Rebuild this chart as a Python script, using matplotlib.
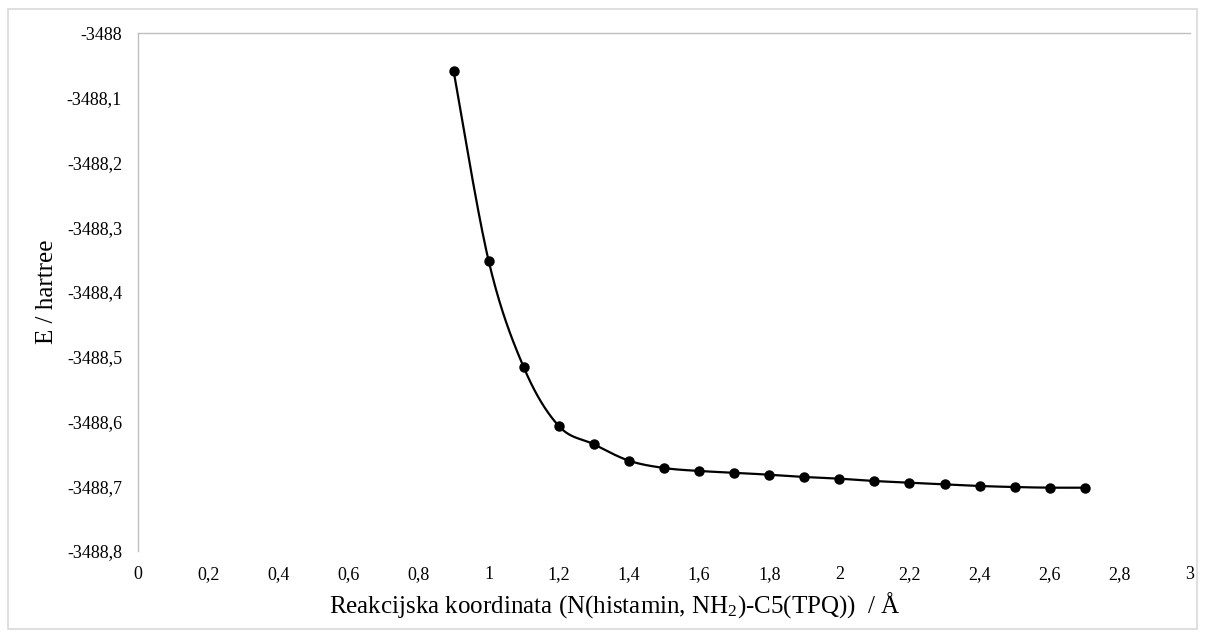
import numpy as np
import matplotlib
matplotlib.use("Agg")
import matplotlib.pyplot as plt
from matplotlib.ticker import FuncFormatter, MultipleLocator
from matplotlib.patches import Rectangle

# Data
x_coord = [0.9, 1.0, 1.1, 1.2, 1.3, 1.4, 1.5, 1.6, 1.7, 1.8, 1.9,
           2.0, 2.1, 2.2, 2.3, 2.4, 2.5, 2.6, 2.7]
energy = [-3488.0587, -3488.3521, -3488.5163, -3488.6070, -3488.6352,
          -3488.6605, -3488.6718, -3488.6764, -3488.6791, -3488.6822,
          -3488.6857, -3488.6883, -3488.6919, -3488.6945, -3488.6970,
          -3488.6996, -3488.7012, -3488.7022, -3488.7022]

plt.rcParams['font.family'] = ['Liberation Serif', 'DejaVu Serif']
plt.rcParams['mathtext.fontset'] = 'custom'
plt.rcParams['mathtext.rm'] = 'Liberation Serif'
plt.rcParams['mathtext.it'] = 'Liberation Serif:italic'


def smooth_curve(xs, ys, n=30):
    """Excel-like smoothed line (Catmull-Rom Bezier) through the points."""
    xs = np.asarray(xs, float)
    ys = np.asarray(ys, float)
    px, py = [], []
    N = len(xs)
    for i in range(N - 1):
        x0, y0 = (xs[i - 1], ys[i - 1]) if i > 0 else (xs[i], ys[i])
        x1, y1 = xs[i], ys[i]
        x2, y2 = xs[i + 1], ys[i + 1]
        x3, y3 = (xs[i + 2], ys[i + 2]) if i + 2 < N else (x2, y2)
        c1x, c1y = x1 + (x2 - x0) / 6, y1 + (y2 - y0) / 6
        c2x, c2y = x2 - (x3 - x1) / 6, y2 - (y3 - y1) / 6
        t = np.linspace(0, 1, n, endpoint=(i == N - 2))
        a = (1 - t) ** 3
        b = 3 * (1 - t) ** 2 * t
        c = 3 * (1 - t) * t ** 2
        d = t ** 3
        px.append(a * x1 + b * c1x + c * c2x + d * x2)
        py.append(a * y1 + b * c1y + c * c2y + d * y2)
    return np.concatenate(px), np.concatenate(py)


fig = plt.figure(figsize=(12.06, 6.37), dpi=100)
fig.patches.append(Rectangle((8 / 1206, 8 / 637), 1 - 17 / 1206, 1 - 17 / 637,
                             transform=fig.transFigure, fill=False,
                             edgecolor='#d9d9d9', linewidth=1.2))
ax = fig.add_axes([138 / 1206, 1 - 551 / 637, (1190 - 138) / 1206, (551 - 33) / 637])

sx, sy = smooth_curve(x_coord, energy)
ax.plot(sx, sy, color='black', linewidth=1.6, zorder=2)
ax.plot(x_coord, energy, 'o', color='black', markersize=6.5, zorder=3)

ax.set_xlim(0, 3)
ax.set_ylim(-3488.8, -3488.0)
ax.xaxis.set_major_locator(MultipleLocator(0.2))
ax.yaxis.set_major_locator(MultipleLocator(0.1))


def fmt(v, pos):
    s = f"{v:.1f}"
    if s.endswith(".0"):
        s = s[:-2]
    return s.replace(".", ",")


ax.xaxis.set_major_formatter(FuncFormatter(fmt))
ax.yaxis.set_major_formatter(FuncFormatter(fmt))
ax.tick_params(axis='both', length=0, labelsize=13, labelcolor='black')
ax.tick_params(axis='y', pad=11.5)
ax.tick_params(axis='x', pad=11)

for s in ['right', 'bottom']:
    ax.spines[s].set_visible(False)
for s in ['left', 'top']:
    ax.spines[s].set_color('#bfbfbf')
    ax.spines[s].set_linewidth(1.0)

ax.set_xlabel(r"Reakcijska koordinata (N(histamin, NH$_{\mathrm{2}}$)-C5(TPQ))  / Å",
              fontsize=18, labelpad=5)
ax.xaxis.set_label_coords((615 - 138) / 1052, -0.076)
ax.set_ylabel("E / hartree", fontsize=18, labelpad=6)

fig.savefig("out.png", dpi=100)
